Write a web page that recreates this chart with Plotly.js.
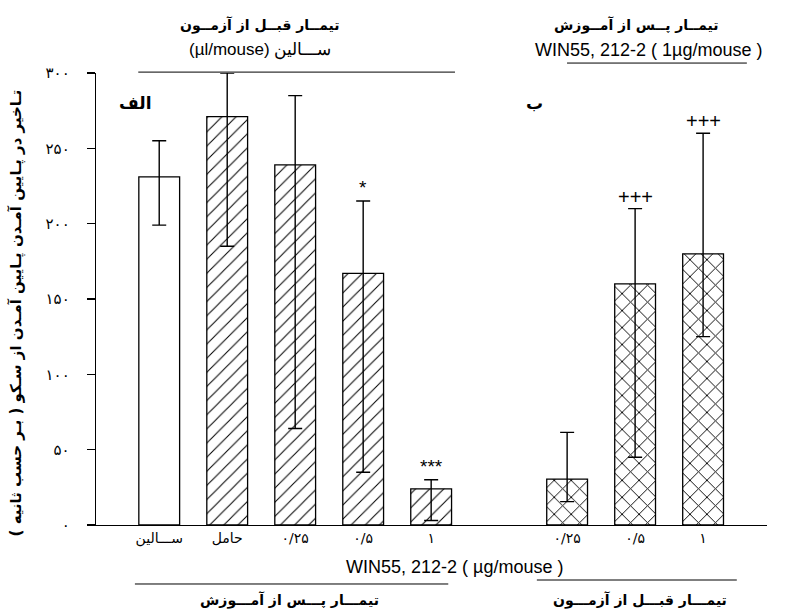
<!DOCTYPE html>
<html>
<head>
<meta charset="utf-8">
<script src="https://cdn.plot.ly/plotly-3.0.1.min.js"></script>
<style>html,body{margin:0;padding:0;background:#fff;}#chart{width:796px;height:611px;}</style>
</head>
<body>
<div id="chart"></div>
<script>
// Data
const leftX = [0, 1, 2, 3, 4];
const leftLabels = ["ســـالین", "حامل", "۰/۲۵", "۰/۵", "۱"];
const leftMeans = [231, 271, 239, 167, 24];
const leftErrPlus = [24, 29, 46, 48, 6];
const leftErrMinus = [32, 86, 175, 132, 21];

const rightX = [6, 7, 8];
const rightLabels = ["۰/۲۵", "۰/۵", "۱"];
const rightMeans = [30.5, 160, 180];
const rightErrPlus = [31, 50, 80];
const rightErrMinus = [15, 115, 55];

const yTickVals = [0, 50, 100, 150, 200, 250, 300];
const yTickText = ["۰", "۵۰", "۱۰۰", "۱۵۰", "۲۰۰", "۲۵۰", "۳۰۰"];

const sigLeft = ["", "", "", "*", "***"];
const sigRight = ["", "+++", "+++"];

const fa = "DejaVu Sans, sans-serif";
const lat = "Liberation Sans, Arial, sans-serif";

const errStyle = (plus, minus) => ({type: "data", symmetric: false, array: plus, arrayminus: minus,
  color: "#000", thickness: 1.4, width: 7});

const traces = [
  {
    type: "bar", x: [leftX[0]], y: [leftMeans[0]], width: 0.6,
    marker: {color: "#fff", line: {color: "#000", width: 1.3}},
    error_y: errStyle([leftErrPlus[0]], [leftErrMinus[0]]),
    showlegend: false, hoverinfo: "skip"
  },
  {
    type: "bar", x: leftX.slice(1), y: leftMeans.slice(1), width: 0.6,
    marker: {color: "#fff", line: {color: "#000", width: 1.3},
      pattern: {shape: "/", fgcolor: "#000", bgcolor: "#fff", size: 10, solidity: 0.1}},
    error_y: errStyle(leftErrPlus.slice(1), leftErrMinus.slice(1)),
    showlegend: false, hoverinfo: "skip"
  },
  {
    type: "bar", x: rightX, y: rightMeans, width: 0.6,
    marker: {color: "#fff", line: {color: "#000", width: 1.3},
      pattern: {shape: "x", fgcolor: "#000", bgcolor: "#fff", size: 12, solidity: 0.15}},
    error_y: errStyle(rightErrPlus, rightErrMinus),
    showlegend: false, hoverinfo: "skip"
  }
];

const annotations = [];
leftX.forEach((x, i) => {
  if (sigLeft[i]) annotations.push({x: x, y: leftMeans[i] + leftErrPlus[i], xref: "x", yref: "y",
    text: sigLeft[i], showarrow: false, yanchor: "bottom", yshift: 1,
    font: {family: lat, size: 19, color: "#000"}});
});
rightX.forEach((x, i) => {
  if (sigRight[i]) annotations.push({x: x, y: rightMeans[i] + rightErrPlus[i], xref: "x", yref: "y",
    text: sigRight[i], showarrow: false, yanchor: "bottom", yshift: -1,
    font: {family: lat, size: 20, color: "#000"}});
});

const txt = (text, x, y, font, extra) => Object.assign({text: text, x: x, y: y, xref: "paper", yref: "paper",
  showarrow: false, xanchor: "center", yanchor: "middle", font: font}, extra || {});

annotations.push(
  txt("<b>تیمــار قبــل از آزمــون</b>", 0.244, 1.106, {family: fa, size: 14, color: "#000"}),
  txt("(µl/mouse) ســـالین", 0.244, 1.051, {family: lat, size: 17, color: "#000"}),
  txt("<b>تیمــار پــس از آمــوزش</b>", 0.806, 1.106, {family: fa, size: 14, color: "#000"}),
  txt("WIN55, 212-2 ( 1µg/mouse )", 0.823, 1.051, {family: lat, size: 18, color: "#000"}),
  txt("WIN55, 212-2 ( µg/mouse )", 0.534, -0.093, {family: lat, size: 18, color: "#000"}),
  txt("<b>تیمـــار پـــس از آمـــوزش</b>", 0.288, -0.166, {family: fa, size: 14, color: "#000"}),
  txt("<b>تیمـــار قبـــل از آزمـــون</b>", 0.81, -0.166, {family: fa, size: 14, color: "#000"}),
  txt("<b>الف</b>", 0.058, 0.934, {family: fa, size: 17, color: "#000"}),
  txt("<b>ب</b>", 0.654, 0.934, {family: fa, size: 17, color: "#000"}),
  txt("<b>تـاخیر در پـایین آمـدن پـایین آمـدن از سـکو ( بـر حسب ثانیه )</b>", -0.118, 0.47,
    {family: fa, size: 15, color: "#000"}, {textangle: -90})
);

const line = (x0, x1, y) => ({type: "line", xref: "paper", yref: "paper", x0: x0, x1: x1, y0: y, y1: y,
  line: {color: "#000", width: 1}});

const layout = {
  width: 796, height: 611,
  margin: {l: 96, r: 29, t: 73, b: 86},
  paper_bgcolor: "#fff", plot_bgcolor: "#fff",
  bargap: 0.4,
  xaxis: {
    range: [-0.93, 8.94], showgrid: false, zeroline: false, showline: true, linecolor: "#000", linewidth: 1.3,
    tickvals: leftX.concat(rightX), ticktext: leftLabels.concat(rightLabels), ticks: "",
    tickfont: {family: fa, size: 14, color: "#000"}, fixedrange: true
  },
  yaxis: {
    range: [0, 300], showgrid: false, zeroline: false, showline: true, linecolor: "#000", linewidth: 1.3,
    tickvals: yTickVals, ticktext: yTickText, ticks: "outside", ticklen: 8, tickcolor: "#000", tickwidth: 1.3,
    ticklabelstandoff: 14,
    tickfont: {family: fa, size: 15, color: "#000"}, fixedrange: true
  },
  annotations: annotations,
  shapes: [
    line(0.063, 0.535, 1.002),
    line(0.702, 0.970, 1.022),
    line(0.058, 0.525, -0.1305),
    line(0.657, 0.955, -0.1217)
  ]
};

Plotly.newPlot("chart", traces, layout, {displayModeBar: false, staticPlot: true});
</script>
</body>
</html>
